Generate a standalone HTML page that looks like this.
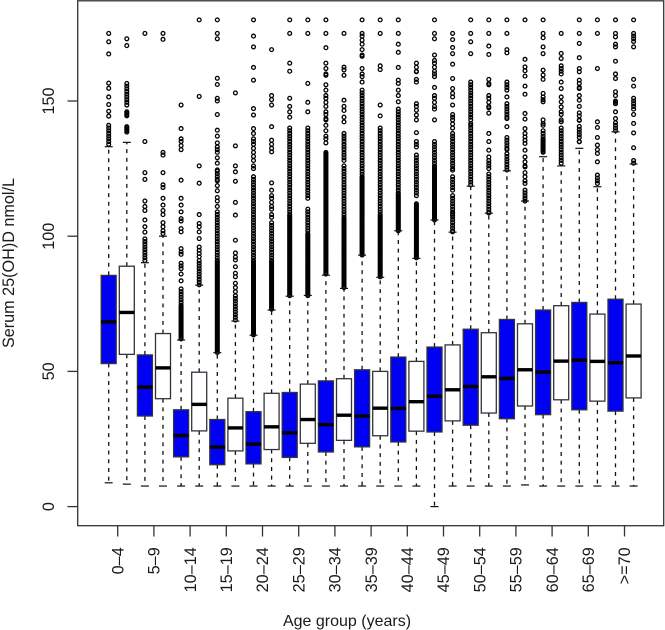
<!DOCTYPE html>
<html lang="en">
<head>
<meta charset="utf-8">
<title>Serum 25(OH)D by age group</title>
<style>
html,body{margin:0;padding:0;background:#fff;width:665px;height:630px;overflow:hidden}
svg{display:block}
text{font-family:"Liberation Sans",Arial,sans-serif;fill:#1a1a1a}
</style>
</head>
<body>
<svg id="chart" width="665" height="630" viewBox="0 0 665 630" xmlns="http://www.w3.org/2000/svg">
<rect x="77.7" y="0.8" width="586" height="524.9" fill="none" stroke="#333" stroke-width="1.3"/>
<g id="y-axis"></g>
<g id="x-axis"></g>
<g id="outlier-layer"></g>
<g id="box-layer"></g>
<text transform="translate(14 263) rotate(-90)" text-anchor="middle" font-size="16.2">Serum 25(OH)D nmol/L</text>
<text x="347" y="626" text-anchor="middle" font-size="16">Age group (years)</text>
</svg>
<script>
const ageLabels = ["0–4","5–9","10–14","15–19","20–24","25–29","30–34","35–39","40–44","45–49","50–54","55–59","60–64","65–69",">=70"];
const yTicks = [0,50,100,150];
const q3 = [85.5,88.9,56.1,64,35.8,49.7,32.2,40.1,35.1,41.9,42.2,45.3,46.5,47.3,50.6,50,55.3,53.7,59,59.8,65.6,64.3,69.2,67.6,72.7,74.3,75.5,71.2,76.7,74.9];
const medians = [68.3,71.8,44.2,51.3,26.3,37.8,22,29.1,23.1,29.5,27.3,32.2,30.3,33.8,33.5,36.4,36.3,38.8,40.8,43.2,44.4,48,47.4,50.6,49.7,53.8,54.1,53.7,53.2,55.7];
const q1 = [52.9,56.3,33.5,39.9,18.4,28,15.5,20.6,15.8,21.1,18.2,23.4,20.2,24.5,22.1,26.2,23.9,27.9,27.6,31.7,30.1,34.6,32.5,37.2,34,39.5,35.8,39,35.3,40.2];
const whiskerHigh = [133.1,134.7,90.2,100,61.6,81.9,56.9,68.6,63.4,72.7,77.8,78.1,85.6,80.7,93,84.8,102,91.8,106,101.5,118.5,108.5,124.2,113,129.4,126,132.5,118.3,138.6,126.7];
const whiskerLow = [8.8,8.3,7.6,7.6,7.6,7.6,7.6,7.6,7.6,7.6,7.6,7.6,7.6,7.6,7.6,7.6,7.6,7.6,0,7.6,7.6,7.6,7.6,8,7.6,7.6,7.6,7.6,7.6,7.6];
const outliers = [
[175,171.9,167.4,156.6,154.7,151.5,148.7,146.2,144.4,141,140,139,138,137,136,135,134],
[173,170.5,156.5,155.5,154.5,153.5,152.5,151.5,150.5,149.5,148.5,146,145.5,145,144.5,140.5,140,139.5,139,138.5],
[175,135,123.5,121,113,111,109.5,106,103.5,101.5,99,98,97,96,95,94,93,92,91],
[175,172.8,131,130,123.5,119,118,114,111.5,109.5,108,105,103.5,102,101],
[148.5,139.8,136,135,133.5,132,120.7,114,111.5,109,106.5,105.6,102.8,101.6,95.4,94.2,93.3,90,89,88,86,83.5,80.5,79.5,78.5,77.5,76.5,75.5,74.5,73.5,72.5,71.5,70.5,69.5,68.5,67.5,66.5,65.5,64.5,63.5,62.5],
[180,151.7,126,119.6,108,104.7,103.5,101.6,99.1,96,94.8,93.6,92.4,91,90,89,88,87,86,85,84,83,82],
[180,175,173,158.4,156.1,151,150,145,139.2,137,134.5,133,132,131,129,127,124.5,124,123,122,121,120.5,118.7,116.8,114.3,113,111,109,108,107,106,105,104,103,102,101,100,99,98,97,96,95,94,93,92,91,90,89,88,87,86,85,84,83,82,81,80,79,78,77,76,75,74,73,72,71,70,69,68,67,66,65,64,63,62,61,60,59,58,57],
[153,133.4,126,123.8,120.3,112.5,107.8,98.5,93.8,92.3,91.2,88.7,86.3,85,82.6,81,79.5,78,77,76,75,74,73,72,71,70,69],
[180,174,170,162.4,157.7,147.2,144.8,139.8,138,136,135,134,132.5,131,129.5,128,126,125,122,121,120,119,118,117,116,115,114,113,112,111,110,109,108,107,106,105,104,103,102,101,100,99,98,97,96,95,94,93,92,91,90,89,88,87,86,85,84,83,82,81,80,79,78,77,76,75,74,73,72,71,70,69,68,67,66,65,64,63.5],
[169,152,150.5,148.5,140.5,135.5,134,132.5,131.2,119.7,117,115,114,112.5,111,110,108,107,105,104,103,102,101,100,99,98,97,96,95,94,93,92,91,90,89,88,87,86,85,84,83,82,81,80,79,78,77,76,75,74,73],
[180,175,164,161,151,148,146,144,140,139,138,137,136,135,134,133,132,131,130,129,128,127,126,125,124,123,122,121,120,119,118,117,116,115,114,113,112,111,110,109,108,107,106,105,104,103,102,101,100,99,98,97,96,95,94,93,92,91,90,89,88,87,86,85,84,83,82,81,80,79,78],
[180,175,156.5,149.5,146,140,139,138,137,136,135,134,133,132,131,130,129,128,127,126,125,124,123,122,121,120,119,118,117,116,115,114,110,109,108,107,106,105,104,103,102,101,100,99,98,97,96,95,94,93,92,91,90,89,88,87,86,85,84,83,82,81,80,79,78],
[180,175,169.7,164,162,160,159.5,156,154,152,151,149.5,148,146,145,143.5,143,141,139,137,136,134.5,131,130,129,128,127,126,125,124,123,122,121,120,119,118,117,116,115,114,113,112,111,110,109,108,107,106,105,104,103,102,101,100,99,98,97,96,95,94,93,92,91,90,89,88,87,86],
[175,162.5,161.5,159.5,150.3,148,146.5,144,142.3,138,137,136,135,134,133,132,131,130,129,128,126,125,124,123,122,121,120,119,118,117,116,115,114,113,112,111,110,109,108,107,106,105,104,103,102,101,100,99,98,97,96,95,94,93,92,91,90,89,88,87,86,85,84,83,82,81],
[180,175,174,172.5,171,169,167,166.5,162,160,159,157,154,153,152,151,150,149,148,147,146,145,144,143,142,141,140,139,138,137,136,135,134,133,132,131,130,129,128,127,126,125,124,123,122,121,120,119,118,117,116,115,114,113,112,111,110,109,108,107,106,105,104,103,102,101,100,99,98,97,96,95,94,93],
[180,175,163,161.6,148.5,144.5,140,139,138,137,136,135,134,133,132,131,130,129,128,127,126,125,124,123,122,121,120,119,118,117,116,115,114,113,112,111,110,109,108,107,106,105,104,103,102,101,100,99,98,97,96,95,94,93,92,91,90,89,88,87,86,85],
[180,175,171,168,162.4,157.7,156.5,154,152,149.7,147,146,145,144,143,142,141,140,139,138,137,136,135,134,133,132,131,130,129,128,127,126,125,124,123,122,121,120,119,118,117,116,115,114,113,112,111,110,109,108,107,106,105,104,103,102],
[164,162.5,161,160.8,158,157,149,148,146.6,144.8,143,138.3,135,134,133,130,129,128,127,126,125,124,123,122,121,120,119,118,117,116,115,112,111,110,109,108,107,106,105,104,103,102,101,100,99,98,97,96,95,94,93,92],
[180,175,173,167,165,164,162.5,161,160,159,155,152,151,149.5,148,147,143,135,134,133,132,131,130,129,128,127,126,125,124,123,122,121,120,119,118,117,116,115,114,113,112,111,110,109,108,107,106],
[175,172.7,169.8,167.5,163.6,158.3,154.6,152.8,151.5,148.5,145,144,143,141.5,140,138,137,136,135,134,133,132,131,130,129,128,127,126,125,124.4,122,121,120,119,118,117,115,114,113,112,111,110,109,108.4,107.8,107,106,105,104,103,102,101.6],
[180,175,171.9,167.5,157,156,155,154,153,152,151,150,149,148,147,146,145,144,143,141.7,141,140,139,138,137,136,135,134,133,132,131,130,129,128,127,126,125,124,123,122,121,120,119],
[180,175,170.3,167.2,158,156.5,156,152,151,149.5,148,147.5,145.5,138,135,131.8,129.3,128,127,126,125,123,122,121,120,119,118,117,116,115,114,113,112,111,110,109,108.6],
[180,175,169,167.8,157,156,155,154,151.5,149,148,147,146,145,144,143.5,140.5,136.5,135.5,134.5,133.5,132.5,132,130.5,129.5,128.5,127.5,126.5,125.5,124.5],
[180,165.4,162.6,161.2,159.2,155.5,152.5,145.4,143.3,139.8,138,136.7,135.5,134.3,131.8,129.3,127.5,126,125.6,123.5,122,120.5,119.5,117,116,115,114,113],
[180,175,173.4,170,167.5,161.4,159.6,158,152.8,151.5,150.5,149.7,143,141.7,141,139,138,137,136,135.5,135,134.5,134,133.5,133,132.5,132,131.5,131],
[175,167.6,165.7,163,162,161,160,157,154.6,151.5,149.7,147.8,146,145,143,142.3,140,139,138,137,136,135,134,133,132,131,130,129,128,127],
[180,175,171.3,166,162,160.8,157.7,156.5,155,154.6,152,150.3,148,145.6,144.5,143,142.8,140.6,139.5,138.5,137.5,136.5,135,134.9],
[180,175,162,142.3,140.2,136.5,133.7,132,130.6,127.5,122.6,121.5,120.5,119.5],
[180,175,173.7,171,170,164.7,160,158.3,153.4,152,150,149.5,149,146,143.5,142,141,140,139],
[180,175,174,173,172,170,158,155.5,151,150,149,148,147,145,141.7,138.2,132.7,128,127]
];
const denseOutliers = [
[],[],[],[],
[74,73,72,71,70,69,68,67,66,65,64,63,62],
[],
[90.5,89.5,88.5,87.5,86.5,85.5,84.5,83.5,82.5,81.5,80.5,79.5,78.5,77.5,76.5,75.5,74.5,73.5,72.5,71.5,70.5,69.5,68.5,67.5,66.5,65.5,64.5,63.5,62.5,61.5,60.5,59.5,58.5,57.5],
[],
[90.5,89.5,88.5,87.5,86.5,85.5,84.5,83.5,82.5,81.5,80.5,79.5,78.5,77.5,76.5,75.5,74.5,73.5,72.5,71.5,70.5,69.5,68.5,67.5,66.5,65.5,64.5],
[90.5,89.5,88.5,87.5,86.5,85.5,84.5,83.5,82.5,81.5,80.5,79.5,78.5,77.5,76.5,75.5,74.5,73.5],
[107.5,106.5,105.5,104.5,103.5,102.5,101.5,100.5,99.5,98.5,97.5,96.5,95.5,94.5,93.5,92.5,91.5,90.5,89.5,88.5,87.5,86.5,85.5,84.5,83.5,82.5,81.5,80.5,79.5,78.5],
[100.5,99.5,98.5,97.5,96.5,95.5,94.5,93.5,92.5,91.5,90.5,89.5,88.5,87.5,86.5,85.5,84.5,83.5,82.5,81.5,80.5,79.5,78.5],
[130.5,129.5,128.5,127.5,126.5,125.5,124.5,123.5,122.5,121.5,120.5,119.5,118.5,117.5,116.5,115.5,114.5,113.5,112.5,111.5,110.5,109.5,108.5,107.5,106.5,105.5,104.5,103.5,102.5,101.5,100.5,99.5,98.5,97.5,96.5,95.5,94.5,93.5,92.5,91.5,90.5,89.5,88.5,87.5,86.5],
[106.5,105.5,104.5,103.5,102.5,101.5,100.5,99.5,98.5,97.5,96.5,95.5,94.5,93.5,92.5,91.5,90.5,89.5,88.5,87.5,86.5,85.5,84.5,83.5,82.5,81.5],
[121.5,120.5,119.5,118.5,117.5,116.5,115.5,114.5,113.5,112.5,111.5,110.5,109.5,108.5,107.5,106.5,105.5,104.5,103.5,102.5,101.5,100.5,99.5,98.5,97.5,96.5,95.5,94.5,93.5],
[107.5,106.5,105.5,104.5,103.5,102.5,101.5,100.5,99.5,98.5,97.5,96.5,95.5,94.5,93.5,92.5,91.5,90.5,89.5,88.5,87.5,86.5,85.5],
[115.5,114.5,113.5,112.5,111.5,110.5,109.5,108.5,107.5,106.5,105.5,104.5,103.5,102.5],
[111.5,110.5,109.5,108.5,107.5,106.5,105.5,104.5,103.5,102.5,101.5,100.5,99.5,98.5,97.5,96.5,95.5,94.5,93.5,92.5],
[125.5,124.5,123.5,122.5,121.5,120.5,119.5,118.5,117.5,116.5,115.5,114.5,113.5,112.5,111.5,110.5,109.5,108.5,107.5,106.5],
[],[],[],[],[],[],[],[],[],[],[]
];

const NS = "http://www.w3.org/2000/svg";
const yPx = v => 506.6 - 2.704 * v;
const xPx = i => 108.7 + 18.1 * i;
const groupX = g => 117.7 + 36.2 * g;
function mk(tag, parent, props) {
  const el = document.createElementNS(NS, tag);
  for (const k in props) el.setAttribute(k, props[k]);
  parent.appendChild(el);
  return el;
}
const yAxis = document.getElementById("y-axis");
yTicks.forEach(t => {
  const tick = mk("line", yAxis, {x1:67.5, x2:77.7, y1:yPx(t), y2:yPx(t), stroke:"#333", "stroke-width":1.3});
  
  
  const lab = mk("text", yAxis, {transform:`translate(54 ${yPx(t)}) rotate(-90)`, "text-anchor":"middle", "font-size":16.2});
  lab.textContent = t;
  
  
});
const xAxis = document.getElementById("x-axis");
ageLabels.forEach((t, g) => {
  const x = groupX(g);
  const tick = mk("line", xAxis, {x1:x, x2:x, y1:525.7, y2:536.5, stroke:"#333", "stroke-width":1.3});
  
  
  const lab = mk("text", xAxis, {transform:`translate(${x + 5.7} 547.3) rotate(-90)`, "text-anchor":"end", "font-size":16.2});
  lab.textContent = t;
  
  
});
const outLayer = document.getElementById("outlier-layer");
[outliers, denseOutliers].forEach(table => {
  table.forEach((vals, i) => {
    vals.forEach(v => {
      const pt = mk("circle", outLayer, {cx:xPx(i), cy:yPx(v), r:1.9, fill:"none", stroke:"#000", "stroke-width":1.3});
      
      
    });
  });
});
const boxLayer = document.getElementById("box-layer");
q3.forEach((_, i) => {
  const x = xPx(i), w = 15;
  const g = mk("g", boxLayer, {});
  
  
  const up = mk("line", g, {x1:x, x2:x, y1:yPx(q3[i]), y2:yPx(whiskerHigh[i]), stroke:"#111", "stroke-width":1.3, "stroke-dasharray":"4 4.7"});
  
  
  const lo = mk("line", g, {x1:x, x2:x, y1:yPx(q1[i]), y2:yPx(whiskerLow[i]), stroke:"#111", "stroke-width":1.3, "stroke-dasharray":"4 4.7"});
  
  
  const capU = mk("line", g, {x1:x-4, x2:x+4, y1:yPx(whiskerHigh[i]), y2:yPx(whiskerHigh[i]), stroke:"#111", "stroke-width":1.2});
  
  
  const capL = mk("line", g, {x1:x-4, x2:x+4, y1:yPx(whiskerLow[i]), y2:yPx(whiskerLow[i]), stroke:"#111", "stroke-width":1.2});
  
  
  const rect = mk("rect", g, {x:x-w/2, y:yPx(q3[i]), width:w, height:yPx(q1[i])-yPx(q3[i]), fill:i%2===0?"#0000f2":"#fff", stroke:"#33333f", "stroke-width":1.3});
  
  
  const med = mk("line", g, {x1:x-w/2, x2:x+w/2, y1:yPx(medians[i]), y2:yPx(medians[i]), stroke:"#000", "stroke-width":3.4});
  
  
});
</script>
</body>
</html>
